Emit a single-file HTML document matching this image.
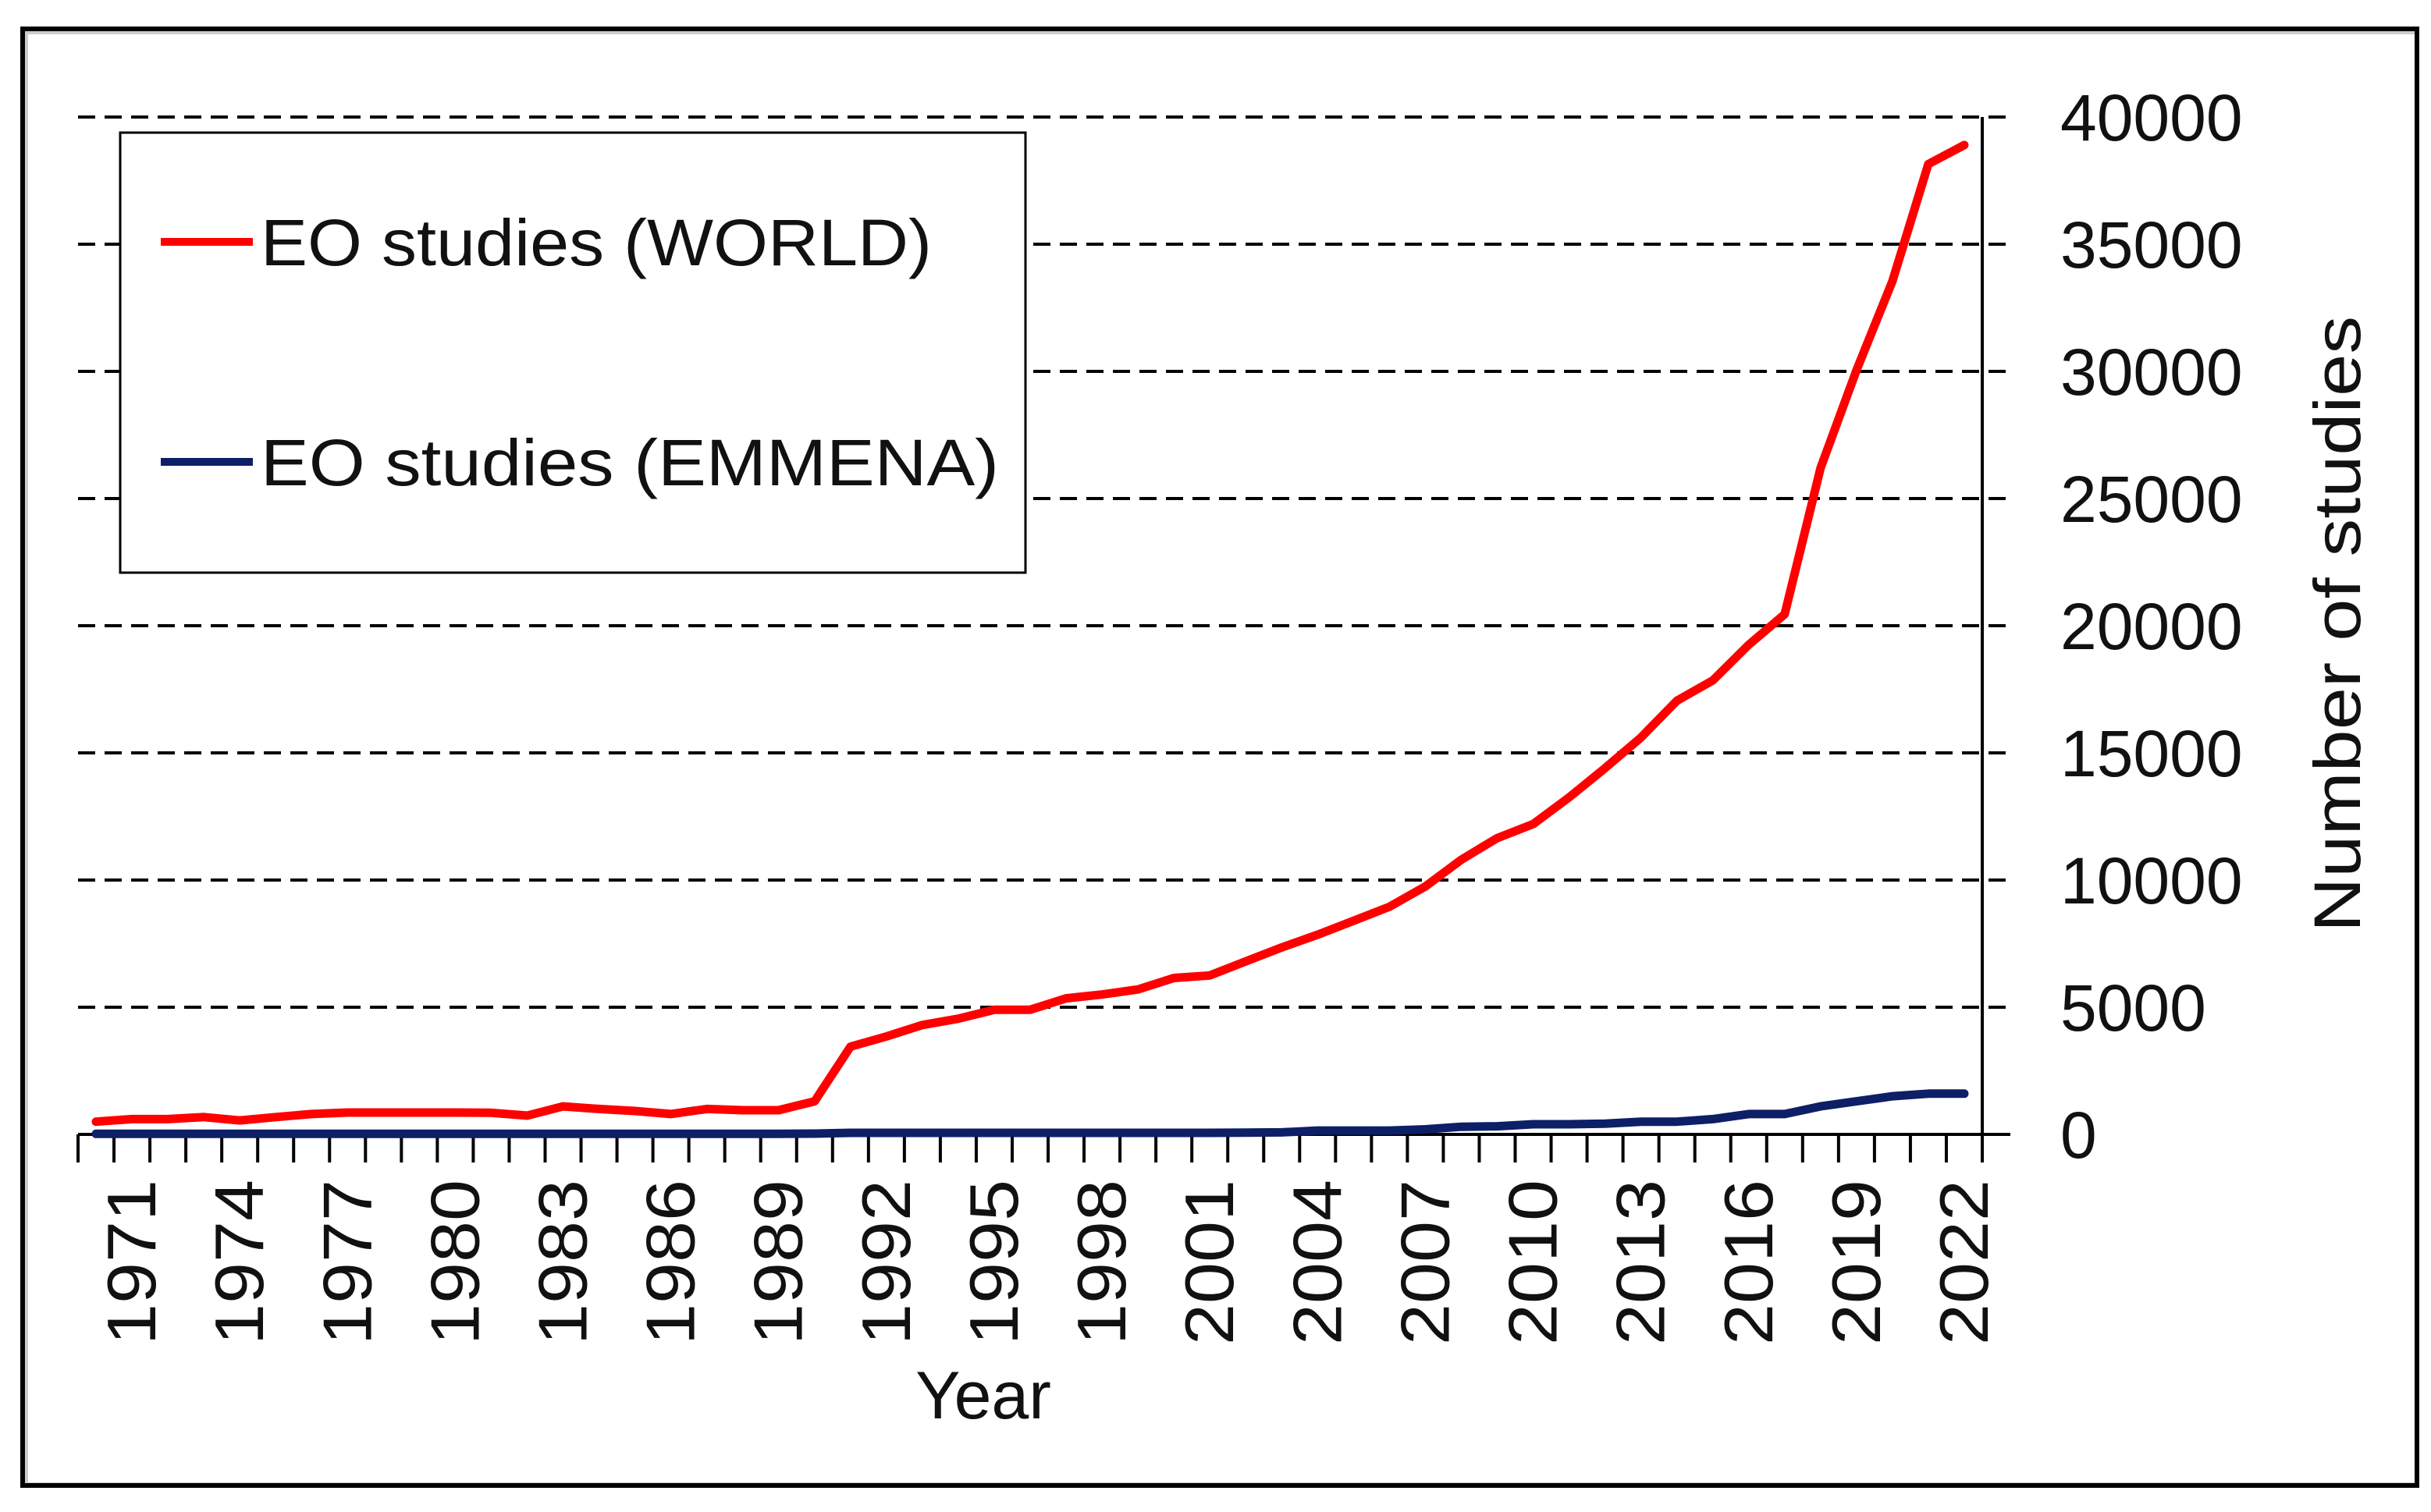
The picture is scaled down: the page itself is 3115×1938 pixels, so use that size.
<!DOCTYPE html>
<html><head><meta charset="utf-8"><style>
html,body{margin:0;padding:0;background:#fff;}
svg{display:block;}
text{font-family:"Liberation Sans",sans-serif;fill:#111;}
</style></head><body>
<svg id="chart" width="3115" height="1938" viewBox="0 0 3115 1938" xmlns="http://www.w3.org/2000/svg">
<rect x="34" y="42" width="3062" height="1860" fill="none" stroke="#ccc" stroke-width="4"/>
<rect x="29" y="37" width="3068" height="1867" fill="none" stroke="#000" stroke-width="6"/>
<g id="grid"></g>
<g id="axes"></g>
<g id="series"></g>
<g>
<rect x="154" y="170" width="1160" height="564" fill="#fff" stroke="#000" stroke-width="3"/>
<line x1="206" y1="310" x2="324" y2="310" stroke="#ff0000" stroke-width="10"/>
<text x="334" y="340" font-size="84" textLength="860" lengthAdjust="spacingAndGlyphs">EO studies (WORLD)</text>
<line x1="206" y1="592" x2="324" y2="592" stroke="#0d1f66" stroke-width="10"/>
<text x="334" y="622" font-size="84" textLength="946" lengthAdjust="spacingAndGlyphs">EO studies (EMMENA)</text>
</g>
<text x="1260" y="1818" font-size="86" text-anchor="middle">Year</text>
<text transform="translate(3024,800) rotate(-90)" font-size="84" text-anchor="middle" textLength="790" lengthAdjust="spacingAndGlyphs">Number of studies</text>
</svg>
<script>
const years = [];
for (let y = 1970; y <= 2022; y++) years.push(y);
const worldValues = [500,600,600,680,550,680,800,860,860,860,860,850,740,1100,1000,920,800,1000,950,950,1300,3450,3850,4300,4550,4900,4900,5350,5500,5700,6150,6250,6800,7350,7850,8400,8950,9750,10800,11650,12200,13250,14400,15600,17050,17850,19250,20450,26200,30050,33550,38150,38900];
const emmenaValues = [20,20,20,20,20,20,20,20,20,20,20,20,20,20,20,20,20,20,20,20,30,60,60,60,60,60,60,60,60,60,60,60,70,80,150,150,150,200,300,320,400,400,420,500,500,600,800,800,1100,1300,1500,1600,1600];
const yTicks = [0,5000,10000,15000,20000,25000,30000,35000,40000];
const xLabelYears = [1971,1974,1977,1980,1983,1986,1989,1992,1995,1998,2001,2004,2007,2010,2013,2016,2019,2022];

const NS = "http://www.w3.org/2000/svg";
const X0 = 100, X1 = 2540, Y0 = 1454, Ytop = 150, YMAX = 40000;
const step = (X1 - X0) / years.length;
const xPos = i => X0 + step * (i + 0.5);
const yPos = v => Y0 - (v / YMAX) * (Y0 - Ytop);
function mk(tag, attrs, parent) {
  const e = document.createElementNS(NS, tag);
  for (const k in attrs) e.setAttribute(k, attrs[k]);
  parent.appendChild(e);
  return e;
}
const grid = document.getElementById('grid');
const axes = document.getElementById('axes');
const series = document.getElementById('series');

yTicks.forEach(v => {
  const y = yPos(v);
  if (v > 0) {
    const g = mk('line', {x1: X0, y1: y, x2: 2576, y2: y, stroke: '#000', 'stroke-width': 4, 'stroke-dasharray': '22 12'}, grid);
    
    
  } else {
    const t0 = mk('line', {x1: X1, y1: y, x2: 2576, y2: y, stroke: '#000', 'stroke-width': 4}, axes);
    
    
  }
  const t = mk('text', {x: 2640, y: y + 30, 'font-size': 84}, axes);
  t.textContent = v;
  
  
});

const xa = mk('line', {x1: X0, y1: Y0, x2: X1, y2: Y0, stroke: '#000', 'stroke-width': 4}, axes);


const ya = mk('line', {x1: X1, y1: Ytop, x2: X1, y2: Y0 + 36, stroke: '#000', 'stroke-width': 4}, axes);



for (let i = 0; i <= years.length; i++) {
  const x = X0 + step * i;
  const tk = mk('line', {x1: x, y1: Y0, x2: x, y2: Y0 + 36, stroke: '#000', 'stroke-width': 4}, axes);
  
  
}
xLabelYears.forEach(yr => {
  const i = years.indexOf(yr);
  const x = xPos(i) + 30;
  const t = mk('text', {transform: `translate(${x},1512) rotate(-90)`, 'font-size': 88, 'text-anchor': 'end', textLength: 212, lengthAdjust: 'spacingAndGlyphs'}, axes);
  t.textContent = yr;
  
  
});

function drawLine(vals, color, name) {
  const pts = vals.map((v, i) => xPos(i).toFixed(1) + ',' + yPos(v).toFixed(1)).join(' ');
  const p = mk('polyline', {points: pts, fill: 'none', stroke: color, 'stroke-width': 11, 'stroke-linejoin': 'round', 'stroke-linecap': 'round'}, series);
  
  
}
drawLine(emmenaValues, '#0d1f66', 'series-emmena-line');
drawLine(worldValues, '#ff0000', 'series-world-line');
</script>
</body></html>
